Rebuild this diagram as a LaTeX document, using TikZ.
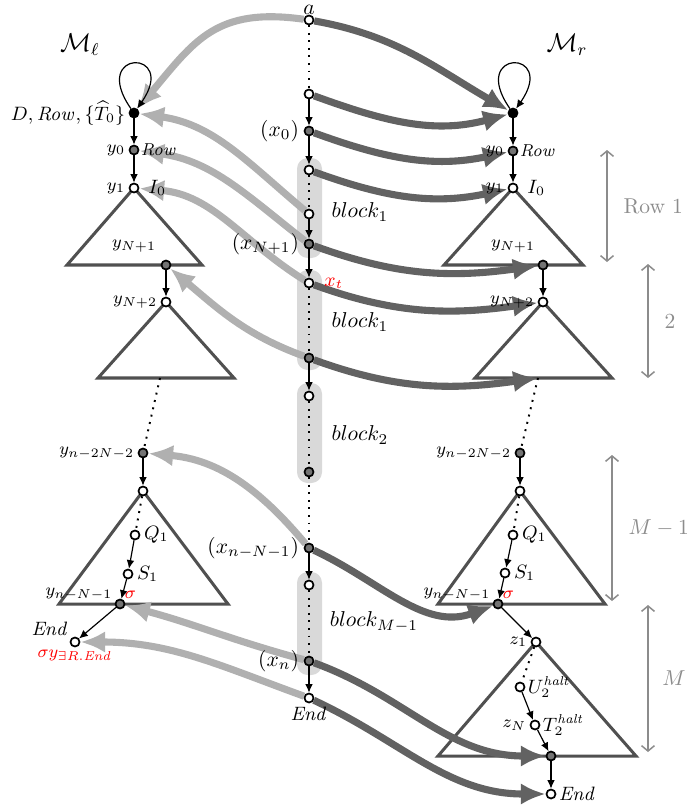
\documentclass[tikz,border=0pt]{standalone}
\usetikzlibrary{arrows.meta,positioning}
\definecolor{darkpath}{HTML}{626262}
\definecolor{lightpath}{HTML}{B0B0B0}
\definecolor{triline}{HTML}{505050}
\definecolor{blockfill}{HTML}{D9D9D9}
\definecolor{spangray}{HTML}{8C8C8C}
\pgfdeclarelayer{back}
\pgfdeclarelayer{mid}
\pgfsetlayers{back,mid,main}
\begin{document}
\begin{tikzpicture}[x=0.465pt,y=-0.465pt,
    openst/.style={circle,draw,line width=0.8pt,inner sep=0pt,minimum size=4.2pt,fill=white},
    grayst/.style={openst,fill=black!55},
    blackst/.style={openst,fill=black},
    lbl/.style={font=\footnotesize,inner sep=1.5pt},
    mlbl/.style={font=\normalsize,inner sep=2pt},
    sarr/.style={-{Latex[length=4pt,width=3.6pt]},line width=0.55pt},
    dotline/.style={line width=0.9pt,dash pattern=on 0.9pt off 2.6pt},
    tri/.style={draw=triline,line width=1.4pt},
    toright/.style={draw=darkpath,line width=3.3pt,-{Latex[length=11.5pt,width=10pt]}},
    toleft/.style={draw=lightpath,line width=3.3pt,-{Latex[length=11.5pt,width=10pt]}},
    spanarr/.style={draw=spangray,line width=0.7pt,{Straight Barb[length=2.5pt,width=6pt]}-{Straight Barb[length=2.5pt,width=6pt]}},
  ]
\useasboundingbox (0,0) rectangle (688,810);

\node[font=\large] (Ml) at (80,45) {$\mathcal{M}_\ell$};
\node[font=\large] (Mr) at (567,45) {$\mathcal{M}_r$};

% middle column
\node[openst,label={[mlbl,inner sep=0pt]above:$a$}] (a) at (309,20) {};
\node[openst] (m1) at (309,94) {};
\node[grayst,label={[mlbl]left:$(x_0)$}] (x0) at (309,131) {};
\node[openst] (b1a) at (309,170) {};
\node[openst] (b1b) at (309,214) {};
\node[grayst,label={[mlbl]left:$(x_{N+1})$}] (xN1) at (309,244) {};
\node[openst,label={[lbl,font=\small,text=red,inner sep=4.5pt]right:$x_t$}] (xt) at (309,283) {};
\node[grayst] (b2b) at (309,358) {};
\node[openst] (c1) at (309,396) {};
\node[grayst] (c2) at (309,472) {};
\node[grayst,label={[mlbl]left:$(x_{n-N-1})$}] (xnN) at (309,548) {};
\node[openst] (d1) at (309,585) {};
\node[grayst,label={[mlbl]left:$(x_n)$}] (xn) at (309,661) {};
\node[openst,label={[lbl,font=\small]below:$\mathit{End}$}] (mend) at (309,698) {};

\node[mlbl] (blk1) at (360,212) {$block_1$};
\node[mlbl] (blk2) at (360,322) {$block_1$};
\node[mlbl] (blk3) at (360,435) {$block_2$};
\node[mlbl] (blk4) at (374,622) {$block_{M-1}$};

\begin{pgfonlayer}{back}
  \foreach \t/\b in {158/258, 270/370, 383/483, 572/675}{
    \fill[blockfill,rounded corners=5pt] (297,\t) rectangle (322,\b);
  }
\end{pgfonlayer}

% left column
\node[blackst,label={[lbl,font=\small]left:$D,\mathit{Row},\{\widehat{T}_0\}$}] (lD) at (134,113) {};
\node[grayst,label={[lbl]left:$y_0$},label={[lbl,inner sep=0.5pt]right:$\mathit{Row}$}] (ly0) at (134,150) {};
\node[openst,label={[lbl]left:$y_1$},label={[lbl,font=\small,inner sep=4pt]right:$I_0$}] (ly1) at (134,188) {};
\node[lbl] (lyN1) at (134,246) {$y_{N+1}$};
\node[grayst] (lg1) at (166,265) {};
\node[openst,label={[lbl]left:$y_{N+2}$}] (lyN2) at (166,302) {};
\coordinate (lb2) at (160,378);
\node[grayst,label={[lbl]left:$y_{n-2N-2}$}] (lyn2) at (143,453) {};
\node[openst] (l3) at (143,491) {};
\node[openst,label={[lbl,font=\small]right:$Q_1$}] (lQ) at (135,535) {};
\node[openst,label={[lbl,font=\small]right:$S_1$}] (lS) at (128,574) {};
\node[grayst,label={[lbl,anchor=south east,inner sep=1pt]165:$y_{n-N-1}$},
  label={[lbl,text=red,inner sep=0.5pt]50:$\sigma$}] (lg3) at (120,604) {};
\node[openst,label={[lbl,font=\small,anchor=south east,inner sep=1pt]140:$\mathit{End}$},
  label={[lbl,text=red,inner sep=1pt]below:$\sigma y_{\exists R.\mathit{End}}$}] (lend) at (75,642) {};

% right column
\node[blackst] (rD) at (513,113) {};
\node[grayst,label={[lbl]left:$y_0$},label={[lbl,inner sep=0.5pt]right:$\mathit{Row}$}] (ry0) at (513,151) {};
\node[openst,label={[lbl]left:$y_1$},label={[lbl,font=\small,inner sep=4pt]right:$I_0$}] (ry1) at (513,188) {};
\node[lbl] (ryN1) at (513,246) {$y_{N+1}$};
\node[grayst] (rg1) at (543,265) {};
\node[openst,label={[lbl]left:$y_{N+2}$}] (ryN2) at (543,302) {};
\coordinate (rb2) at (538,378);
\node[grayst,label={[lbl]left:$y_{n-2N-2}$}] (ryn2) at (520,453) {};
\node[openst] (r3) at (520,491) {};
\node[openst,label={[lbl,font=\small]right:$Q_1$}] (rQ) at (513,535) {};
\node[openst,label={[lbl,font=\small]right:$S_1$}] (rS) at (505,573) {};
\node[grayst,label={[lbl,anchor=south east,inner sep=1pt]165:$y_{n-N-1}$},
  label={[lbl,text=red,inner sep=0.5pt]50:$\sigma$}] (rg3) at (498,604) {};
\node[openst,label={[lbl]left:$z_1$}] (rz1) at (536,642) {};
\node[openst,label={[lbl,font=\small,inner sep=1pt]right:$U_2^{\mathit{halt}}$}] (rU) at (520,687) {};
\node[openst,label={[lbl]left:$z_N$},label={[lbl,font=\small,inner sep=1pt]right:$T_2^{\mathit{halt}}$}] (rT) at (535,725) {};
\node[grayst] (rg4) at (551,756) {};
\node[openst,label={[lbl,font=\small,inner sep=1pt]right:$\mathit{End}$}] (rend) at (551,794) {};

% triangles
\begin{pgfonlayer}{back}
  \draw[tri] (ly1.center) -- ++(-67,77) -- ++(135,0) -- cycle;
  \draw[tri] (lyN2.center) -- ++(-68,76) -- ++(136,0) -- cycle;
  \draw[tri] (l3.center) -- ++(-84,113) -- ++(169,0) -- cycle;
  \draw[tri] (ry1.center) -- ++(-69,77) -- ++(139,0) -- cycle;
  \draw[tri] (ryN2.center) -- ++(-68,76) -- ++(137,0) -- cycle;
  \draw[tri] (r3.center) -- ++(-82,113) -- ++(167,0) -- cycle;
  \draw[tri] (rz1.center) -- ++(-98,114) -- ++(198,0) -- cycle;
\end{pgfonlayer}

% short links
\foreach \s/\t/\k in {a/m1/dotline, m1/x0/sarr, x0/b1a/sarr, b1a/b1b/dotline,
    b1b/xN1/sarr, xN1/xt/sarr, xt/b2b/dotline, b2b/c1/sarr, c1/c2/dotline,
    c2/xnN/dotline, xnN/d1/sarr, d1/xn/dotline, xn/mend/sarr,
    lD/ly0/sarr, ly0/ly1/sarr, lg1/lyN2/sarr, lb2/lyn2/dotline, lyn2/l3/sarr,
    l3/lQ/dotline, lQ/lS/sarr, lS/lg3/sarr, lg3/lend/sarr,
    rD/ry0/sarr, ry0/ry1/sarr, rg1/ryN2/sarr, rb2/ryn2/dotline, ryn2/r3/sarr,
    r3/rQ/dotline, rQ/rS/sarr, rS/rg3/sarr, rg3/rz1/sarr, rz1/rU/dotline,
    rU/rT/sarr, rT/rg4/sarr, rg4/rend/sarr}{
  \draw[\k] (\s) -- (\t);
}
\draw[sarr] (lD) to[out=125,in=55,min distance=12mm] (lD);
\draw[sarr] (rD) to[out=125,in=55,min distance=12mm] (rD);

% big arrows
\begin{pgfonlayer}{mid}
  \draw[toright] (a) to[out=-10,in=150] (rD);
  \draw[toright] (m1) to[out=-20,in=195] (rD);
  \draw[toright] (x0) to[out=-20,in=192] (ry0);
  \draw[toright] (b1a) to[out=-20,in=192] (ry1);
  \draw[toright] (xN1) to[out=-20,in=188] (rg1);
  \draw[toright] (xt) to[out=-20,in=188] (ryN2);
  \draw[toright] (b2b) to[out=-20,in=188] (rb2);
  \draw[toright] (xnN) to[out=-25,in=200] (rg3);
  \draw[toright] (xn) to[out=-20,in=180] (rg4);
  \draw[toright] (mend) to[out=-25,in=180] (rend);

  \draw[toleft] (a) to[out=172,in=50,looseness=1.2] (lD);
  \draw[toleft] (b1b) to[out=140,in=-8] (lD);
  \draw[toleft] (xN1) to[out=142,in=-8] (ly0);
  \draw[toleft] (xt) to[out=148,in=-5] (ly1);
  \draw[toleft] (b2b) to[out=160,in=-40] (lg1);
  \draw[toleft] (xnN) to[out=130,in=-5] (lyn2);
  \draw[toleft] (xn) to[out=165,in=-15] (lg3);
  \draw[toleft] (mend) to[out=160,in=0] (lend);
\end{pgfonlayer}

% spans on the right
\coordinate (s1t) at (607,150); \coordinate (s1b) at (607,262);
\coordinate (s2t) at (648,264); \coordinate (s2b) at (648,378);
\coordinate (s3t) at (612,455); \coordinate (s3b) at (612,601);
\coordinate (s4t) at (648,605); \coordinate (s4b) at (648,752);
\draw[spanarr] (s1t) -- node[right=4pt,text=spangray] (row1) {Row 1} (s1b);
\draw[spanarr] (s2t) -- node[right=4pt,text=spangray] (row2) {2} (s2b);
\draw[spanarr] (s3t) -- node[right=4pt,text=spangray] (rowM1) {$M-1$} (s3b);
\draw[spanarr] (s4t) -- node[right=3pt,text=spangray] (rowM) {$M$} (s4b);
\end{tikzpicture}
\end{document}
